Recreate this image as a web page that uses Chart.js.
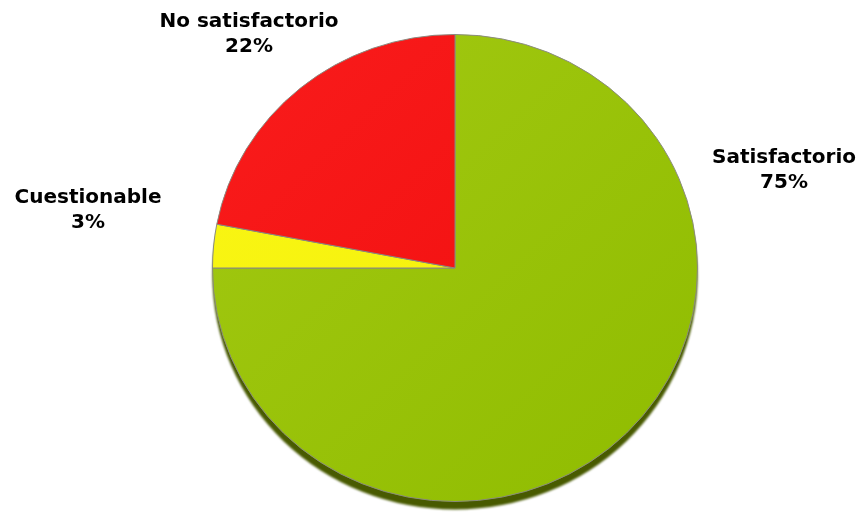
<!DOCTYPE html>
<html>
<head>
<meta charset="utf-8">
<script src="https://cdn.jsdelivr.net/npm/chart.js@4/dist/chart.umd.min.js"></script>
<style>
  html, body { margin:0; padding:0; background:#fff; }
  #wrap { width:864px; height:515px; position:relative; }
</style>
</head>
<body>
<div id="wrap"><canvas id="pie"></canvas></div>
<script>
// resultados de la evaluación
const categories = ["Satisfactorio", "Cuestionable", "No satisfactorio"];
const percents = [75, 3, 22];
const sliceColors = [["#a3c912", "#8fbc00"], ["#faf614", "#f2f00a"], ["#f91c1c", "#f00b0b"]];

// label anchors, relative to the pie centre (x offset, first baseline offset)
const labelOffsets = [[329, -105], [-367, -65], [-206, -241]];

function sliceFill(c){
  const pair = sliceColors[c.dataIndex];
  const area = c.chart.chartArea;
  if(!area) return pair[0];
  const g = c.chart.ctx.createLinearGradient(area.left, area.top, area.right, area.bottom);
  g.addColorStop(0, pair[0]);
  g.addColorStop(1, pair[1]);
  return g;
}

// squash the pie a little vertically and put a dark rim under it
const tiltPlugin = {
  id: "tilt",
  beforeDatasetsDraw(chart, args, opts){
    const arc = chart.getDatasetMeta(0).data[0];
    if(!arc) return;
    const ctx = chart.ctx;
    const cx = arc.x, cy = arc.y, r = arc.outerRadius;
    ctx.save();
    ctx.translate(cx, cy);
    ctx.scale(1, opts.squash);
    ctx.translate(-cx, -cy);
    // rim
    ctx.save();
    ctx.filter = "blur(0.8px)";
    ctx.fillStyle = opts.rimColor;
    ctx.beginPath();
    ctx.arc(cx, cy + opts.rimDepth / opts.squash, r, 0, Math.PI * 2);
    ctx.fill();
    ctx.restore();
  },
  afterDatasetsDraw(chart){
    chart.ctx.restore();
  }
};

const outsideLabels = {
  id: "outsideLabels",
  afterDraw(chart, args, opts){
    const arc = chart.getDatasetMeta(0).data[0];
    if(!arc) return;
    const ctx = chart.ctx;
    ctx.save();
    ctx.font = opts.font;
    ctx.fillStyle = "#000";
    ctx.textAlign = "center";
    ctx.textBaseline = "alphabetic";
    categories.forEach((name, i) => {
      const x = arc.x + labelOffsets[i][0];
      const y = arc.y + labelOffsets[i][1];
      ctx.fillText(name, x, y);
      ctx.fillText(percents[i] + "%", x, y + opts.lineHeight);
    });
    ctx.restore();
  }
};

new Chart(document.getElementById("pie"), {
  type: "pie",
  data: {
    labels: categories,
    datasets: [{
      data: percents,
      backgroundColor: sliceFill,
      borderColor: "#8a8a80",
      borderWidth: 1
    }]
  },
  options: {
    responsive: true,
    maintainAspectRatio: false,
    animation: false,
    layout: { padding: { left: 212, right: 166, top: 25, bottom: 4 } },
    plugins: {
      legend: { display: false },
      tooltip: { enabled: false },
      tilt: { squash: 0.963, rimDepth: 8, rimColor: "#485a00" },
      outsideLabels: { font: "bold 20px 'DejaVu Sans'", lineHeight: 25 }
    }
  },
  plugins: [tiltPlugin, outsideLabels]
});
</script>
</body>
</html>
